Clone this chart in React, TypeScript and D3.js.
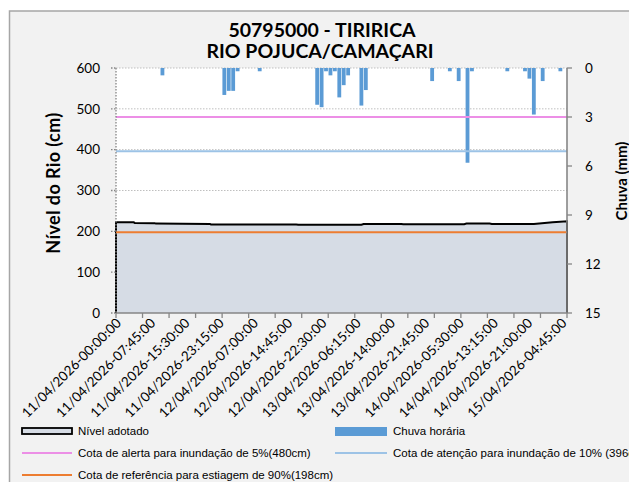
import React from "react";
import * as d3 from "d3";

const titleLines = ["50795000 - TIRIRICA", "RIO POJUCA/CAMAÇARI"];
const leftTicks = [0, 100, 200, 300, 400, 500, 600];
const rightTicks = [0, 3, 6, 9, 12, 15];
const xLabels = [
  "11/04/2026-00:00:00", "11/04/2026-07:45:00", "11/04/2026-15:30:00", "11/04/2026-23:15:00",
  "12/04/2026-07:00:00", "12/04/2026-14:45:00", "12/04/2026-22:30:00", "13/04/2026-06:15:00",
  "13/04/2026-14:00:00", "13/04/2026-21:45:00", "14/04/2026-05:30:00", "14/04/2026-13:15:00",
  "14/04/2026-21:00:00", "15/04/2026-04:45:00",
];
const labelStep = 31; // 15-min samples between labels
const tickStep = 24;  // samples between tick marks
const lastIndex = 408;

// River level (cm) at sample indices (15-min)
const levelIdx = [0, 16, 17, 35, 36, 60, 85, 86, 163, 165, 222, 224, 258, 260, 315, 317, 338, 340, 378, 395, 408];
const levelCm = [222, 222, 220.5, 220, 219, 218.5, 218, 217, 217, 216.3, 216.3, 218, 218, 217.5, 217.5, 219, 219, 218, 218, 222, 224.5];

// Hourly rain (mm), hour since start
const rainHour = [10, 24, 25, 26, 27, 32, 45, 46, 47, 48, 49, 50, 51, 52, 55, 56, 71, 75, 77, 79, 80, 88, 92, 93, 94, 96, 100];
const rainMm = [0.45, 1.65, 1.4, 1.4, 0.2, 0.2, 2.25, 2.4, 0.2, 0.45, 0.2, 1.8, 1.05, 0.45, 2.3, 1.35, 0.8, 0.2, 0.8, 5.8, 0.2, 0.2, 0.2, 0.65, 2.85, 0.8, 0.2];

const alertLevel = 480;
const attentionLevel = 396;
const droughtLevel = 198;

const legendItems = [
  "Nível adotado",
  "Chuva horária",
  "Cota de alerta para inundação de 5%(480cm)",
  "Cota de atenção para inundação de 10% (396cm)",
  "Cota de referência para estiagem de 90%(198cm)",
];

const W = 629;
const H = 482;
const FONT = "Lato, 'Open Sans', sans-serif";
const LFONT = "'Liberation Sans', Arial, sans-serif";
const C_AREA = "#d6dce5";
const C_RAIN = "#5b9bd5";
const C_ALERT = "#ec8fe6";
const C_ATT = "#9dc3e6";
const C_DRY = "#ed7d31";
const C_AXIS = "#868686";
const C_GRID = "#bfbfbf";

function LegendText({ x, y, children }: { x: number; y: number; children: React.ReactNode }) {
  return (
    <text x={x} y={y} fontFamily={LFONT} fontSize={11.5} fill="#000">{children}</text>
  );
}

export default function App() {
  const x0 = 116, x1 = 567, yTop = 68, yBot = 313;
  const x = d3.scaleLinear().domain([0, lastIndex]).range([x0, x1]);
  const yL = d3.scaleLinear().domain([0, 600]).range([yBot, yTop]);
  const yR = d3.scaleLinear().domain([0, 15]).range([yTop, yBot]);

  const pts: [number, number][] = levelIdx.map((d, i) => [d, levelCm[i]]);
  const area = d3.area<[number, number]>().x(d => x(d[0])).y0(yL(0)).y1(d => yL(d[1]));
  const outline = d3.line<[number, number]>().x(d => x(d[0])).y(d => yL(d[1]));
  const outlinePath = `M${x(0)},${yL(0)}L` + (outline(pts) || "").slice(1) + `L${x(lastIndex)},${yL(0)}`;

  const barUnit = x(4) - x(0);
  const ticks = d3.range(0, lastIndex + 1, tickStep);

  return (
    <div style={{ position: "fixed", left: 0, top: 0 }}>
      <svg width={W} height={H} style={{ display: "block" }}>
        <rect x={0} y={0} width={W} height={H} fill="#ffffff" />
        <rect x={9.5} y={11} width={700} height={600} fill="#f2f2f2" stroke="#a6a6a6" strokeWidth={1.5} />
        {/* title */}
        <text x={322} y={37} textAnchor="middle" fontFamily={FONT} fontWeight={700} fontSize={19.5} fill="#000">{titleLines[0]}</text>
        <text x={320} y={58} textAnchor="middle" fontFamily={FONT} fontWeight={700} fontSize={19.5} fill="#000">{titleLines[1]}</text>

        {/* plot area */}
        <rect x={x0} y={yTop} width={x1 - x0} height={yBot - yTop} fill="#ffffff" />
        {leftTicks.filter(t => t > 0).map(t => (
          <line key={"g" + t} x1={x0} x2={x1} y1={yL(t)} y2={yL(t)} stroke={C_GRID} strokeWidth={1} strokeDasharray="1.5 1.5" />
        ))}

        {/* level area */}
        <path d={area(pts) || ""} fill={C_AREA} />
        <path d={outlinePath} fill="none" stroke="#000" strokeWidth={2} />

        {/* rain bars */}
        {rainHour.map((h, i) => (
          <rect key={"r" + i} x={x(h * 4) + 0.3} y={yR(0)} width={barUnit - 0.6} height={yR(rainMm[i]) - yR(0)} fill={C_RAIN} />
        ))}

        {/* threshold lines */}
        <line x1={x0} x2={x1} y1={yL(alertLevel)} y2={yL(alertLevel)} stroke={C_ALERT} strokeWidth={2} />
        <line x1={x0} x2={x1} y1={yL(attentionLevel)} y2={yL(attentionLevel)} stroke={C_ATT} strokeWidth={2} />
        <line x1={x0} x2={x1} y1={yL(droughtLevel)} y2={yL(droughtLevel)} stroke={C_DRY} strokeWidth={2} />

        {/* left axis (dotted) */}
        <line x1={x0} x2={x0} y1={yTop} y2={yBot} stroke={C_AXIS} strokeWidth={1.3} strokeDasharray="1.5 1.5" />
        {leftTicks.map(t => (
          <g key={"l" + t}>
            <line x1={x0 - 5} x2={x0} y1={yL(t)} y2={yL(t)} stroke={C_AXIS} strokeWidth={1.3} strokeDasharray="1.5 1.5" />
            <text x={100} y={yL(t)} dy="0.35em" textAnchor="end" fontFamily={FONT} fontSize={13.5} fill="#000">{t}</text>
          </g>
        ))}

        {/* right axis */}
        <line x1={x1} x2={x1} y1={yTop} y2={yBot} stroke={C_AXIS} strokeWidth={1.6} />
        {rightTicks.map(t => (
          <g key={"rt" + t}>
            <line x1={x1} x2={x1 + 5} y1={yR(t)} y2={yR(t)} stroke={C_AXIS} strokeWidth={1.3} />
            <text x={585} y={yR(t)} dy="0.35em" textAnchor="start" fontFamily={FONT} fontSize={13.5} fill="#000">{t}</text>
          </g>
        ))}

        {/* bottom axis */}
        <line x1={x0} x2={x1} y1={yBot} y2={yBot} stroke={C_AXIS} strokeWidth={1.6} />
        {ticks.map(t => (
          <line key={"bt" + t} x1={x(t)} x2={x(t)} y1={yBot} y2={yBot + 5} stroke={C_AXIS} strokeWidth={1.3} />
        ))}
        {xLabels.map((lab, i) => {
          const tx = x(i * labelStep);
          return (
            <text key={"xl" + i} transform={`translate(${tx + 6},${yBot + 11}) rotate(-45)`} textAnchor="end" fontFamily={FONT} fontSize={13.5} fill="#000">{lab}</text>
          );
        })}

        {/* axis titles */}
        <text transform={`translate(60,183) rotate(-90)`} textAnchor="middle" fontFamily={FONT} fontWeight={700} fontSize={18} letterSpacing={0.4} fill="#000">Nível do Rio  (cm)</text>
        <text transform={`translate(627,181) rotate(-90)`} textAnchor="middle" fontFamily={FONT} fontWeight={700} fontSize={15} fill="#000">Chuva (mm)</text>

        {/* legend */}
        <rect x={22} y={428} width={50} height={6} fill={C_AREA} stroke="#000" strokeWidth={1.8} />
        <LegendText x={78} y={435}>{legendItems[0]}</LegendText>
        <rect x={335} y={427} width={52} height={9} fill={C_RAIN} />
        <LegendText x={393} y={435}>{legendItems[1]}</LegendText>
        <line x1={22} x2={72} y1={453} y2={453} stroke={C_ALERT} strokeWidth={2} />
        <LegendText x={78} y={457}>{legendItems[2]}</LegendText>
        <line x1={335} x2={387} y1={453} y2={453} stroke={C_ATT} strokeWidth={2} />
        <LegendText x={393} y={457}>{legendItems[3]}</LegendText>
        <line x1={22} x2={72} y1={475} y2={475} stroke={C_DRY} strokeWidth={2} />
        <LegendText x={78} y={479}>{legendItems[4]}</LegendText>
      </svg>
    </div>
  );
}
